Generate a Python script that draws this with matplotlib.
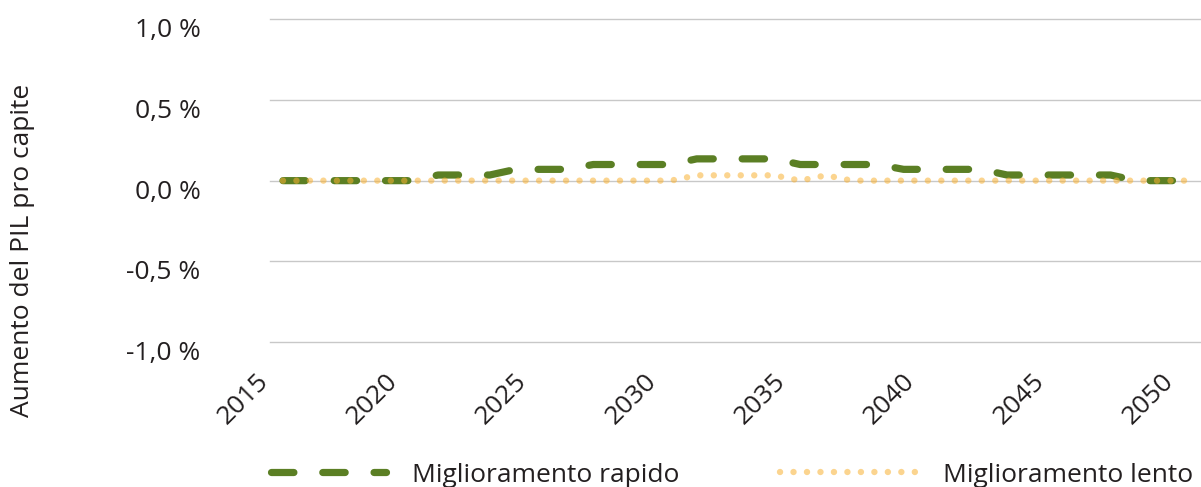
"""Aumento del PIL pro capite: miglioramento rapido vs lento."""

import matplotlib
matplotlib.use('Agg')
import matplotlib.pyplot as plt
import matplotlib.transforms as mtransforms
from matplotlib.lines import Line2D

plt.rcParams['font.family'] = ['Open Sans', 'DejaVu Sans']

years = list(range(2015, 2051))
tick_years = [2015, 2020, 2025, 2030, 2035, 2040, 2045, 2050]

# % growth of GDP per capita
rapido = ([0.0] * 6 + [0.035] * 3 + [0.07] * 3 + [0.1] * 4 + [0.135] * 4
          + [0.1] * 4 + [0.07] * 4 + [0.035] * 5 + [0.0] * 3)
lento = ([0.0] * 16 + [0.033] * 4 + [0.0] + [0.033] + [0.0] * 14)
series_names = ['Miglioramento rapido', 'Miglioramento lento']

y_ticks = [-1.0, -0.5, 0.0, 0.5, 1.0]

green = '#5b7f24'
yellow = '#f9b233'
text_col = '#231f20'
fs = 19

W, H = 1201, 487
fig = plt.figure(figsize=(W / 100, H / 100), dpi=100)
ax = fig.add_axes([270 / W, 1 - 342 / H, 1 - 270 / W, (342 - 19.3) / H])

green_style = dict(color=green, lw=5.2, dashes=(3.1, 4.0), dash_capstyle='round')
yellow_style = dict(color=yellow, alpha=0.55, lw=4.6, dashes=(0.01, 2.1),
                    dash_capstyle='round')

x = list(range(len(years)))
ax.plot(x, rapido, zorder=3, **green_style)
ax.plot(x, lento, zorder=4, **yellow_style)

ax.set_xlim(-0.5, len(years) - 0.5)
ax.set_ylim(-1.0, 1.0)
ax.set_yticks(y_ticks)
ax.set_yticklabels([f'{v:.1f} %'.replace('.', ',') for v in y_ticks])
ax.set_xticks([years.index(t) for t in tick_years])
ax.set_xticklabels([str(t) for t in tick_years])
ax.grid(axis='y', color='#c8c8c8', lw=1.0)
ax.set_axisbelow(True)
for gl in ax.get_ygridlines():
    gl.set_clip_on(False)
for s in ax.spines.values():
    s.set_visible(False)
ax.tick_params(length=0, labelsize=fs, labelcolor=text_col)
ax.tick_params(axis='y', pad=50)

xoff = mtransforms.ScaledTranslation(-0.27, -0.22, fig.dpi_scale_trans)
for lab in ax.get_xticklabels():
    lab.set_rotation(45)
    lab.set_ha('right')
    lab.set_va('top')
    lab.set_rotation_mode('anchor')
    lab.set_transform(lab.get_transform() + xoff)
yoff = mtransforms.ScaledTranslation(0, -0.085, fig.dpi_scale_trans)
for lab in ax.get_yticklabels():
    lab.set_transform(lab.get_transform() + yoff)

fig.text(23 / W, 1 - 250 / H, 'Aumento del PIL pro capite', rotation=90,
         ha='center', va='center', fontsize=fs, color=text_col)

# legend, drawn by hand so each sample can have its own length
leg_y = 1 - 472 / H
for (x0, x1, tx), style, name in zip([(271, 386, 412), (780, 918, 943)],
                                     [green_style, yellow_style], series_names):
    fig.add_artist(Line2D([x0 / W, x1 / W], [leg_y, leg_y],
                          transform=fig.transFigure, **style))
    fig.text(tx / W, 1 - 482 / H, name, ha='left', va='baseline',
             fontsize=fs, color=text_col)

fig.savefig('out.png', dpi=100)
